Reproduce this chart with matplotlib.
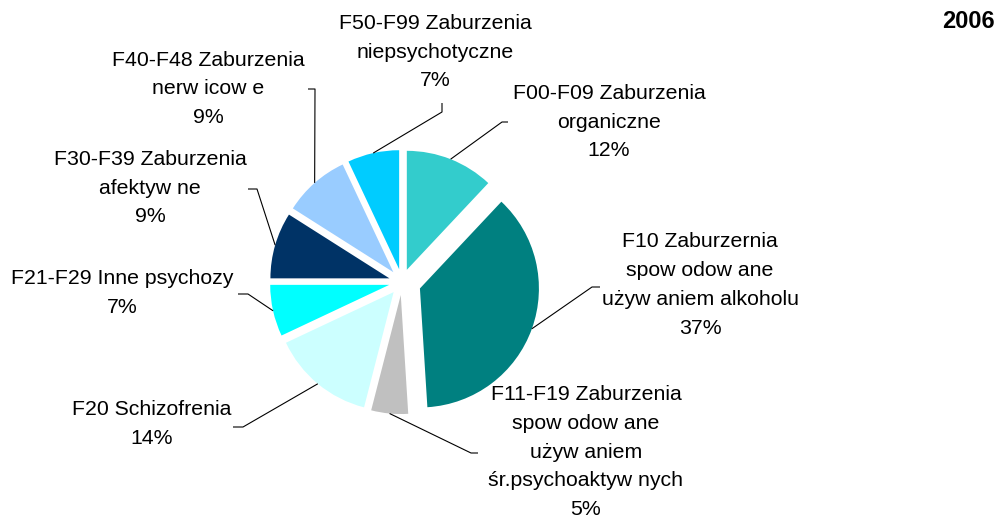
import numpy as np
import matplotlib
matplotlib.use("Agg")
import matplotlib.pyplot as plt

plt.rcParams['font.family'] = ['Liberation Sans', 'DejaVu Sans']

# --- dane ---
labels = [
    "F00-F09 Zaburzenia\norganiczne",
    "F10 Zaburzernia\nspow odow ane\nużyw aniem alkoholu",
    "F11-F19 Zaburzenia\nspow odow ane\nużyw aniem\nśr.psychoaktyw nych",
    "F20 Schizofrenia",
    "F21-F29 Inne psychozy",
    "F30-F39 Zaburzenia\nafektyw ne",
    "F40-F48 Zaburzenia\nnerw icow e",
    "F50-F99 Zaburzenia\nniepsychotyczne",
]
values = [12, 37, 5, 14, 7, 9, 9, 7]
colors = ["#33CCCC", "#008080", "#C0C0C0", "#CCFFFF",
          "#00FFFF", "#003366", "#99CCFF", "#00CCFF"]
explode = [0.11, 0.16, 0.11, 0.11, 0.11, 0.11, 0.11, 0.11]
year = "2006"

# --- uklad (piksele, y od gory) ---
W, H = 1008, 522
pie_cx, pie_cy, pie_r = 402, 282, 119
# srodek bloku tekstu etykiety
label_pos = [(609, 122), (700, 285), (586, 452), (152, 424),
             (122, 293), (150, 188), (208, 89), (435, 52)]
# linia odniesienia: poczatek przy tekscie, kolanko
leader = [((508, 122), (502, 122)),
          ((600, 287), (592, 287)),
          ((478, 453), (471, 453)),
          ((233, 427), (243, 427)),
          ((238, 294), (248, 294)),
          ((248, 189), (257, 189)),
          ((308, 89), (315, 89)),
          ((442, 103), (442, 112))]

fig = plt.figure(figsize=(W / 100, H / 100), dpi=100)
ax = fig.add_axes([0, 0, 1, 1])

# explode w pie jest w jednostkach danych -> skalowanie promieniem
wedges, _ = ax.pie(values, colors=colors,
                   explode=[e * pie_r for e in explode], startangle=90,
                   counterclock=False, radius=pie_r,
                   center=(pie_cx, H - pie_cy),
                   wedgeprops=dict(linewidth=0))

ax.set_xlim(0, W)
ax.set_ylim(0, H)
ax.set_aspect('auto')
ax.axis('off')

for w, lab, v, (lx, ly), (p0, p1) in zip(wedges, labels, values, label_pos, leader):
    ax.text(lx, H - ly, f"{lab}\n{v}%", ha='center', va='center',
            fontsize=15.3, linespacing=1.66, color='black')
    mid = np.deg2rad((w.theta1 + w.theta2) / 2)
    ex = w.center[0] + w.r * np.cos(mid)
    ey = w.center[1] + w.r * np.sin(mid)
    ax.plot([p0[0], p1[0], ex], [H - p0[1], H - p1[1], ey],
            color='black', lw=0.8, solid_capstyle='butt')

ax.text(995, H - 21, year, ha='right', va='center', fontsize=17,
        fontweight='bold', color='black')

fig.savefig("out.png", dpi=100)
